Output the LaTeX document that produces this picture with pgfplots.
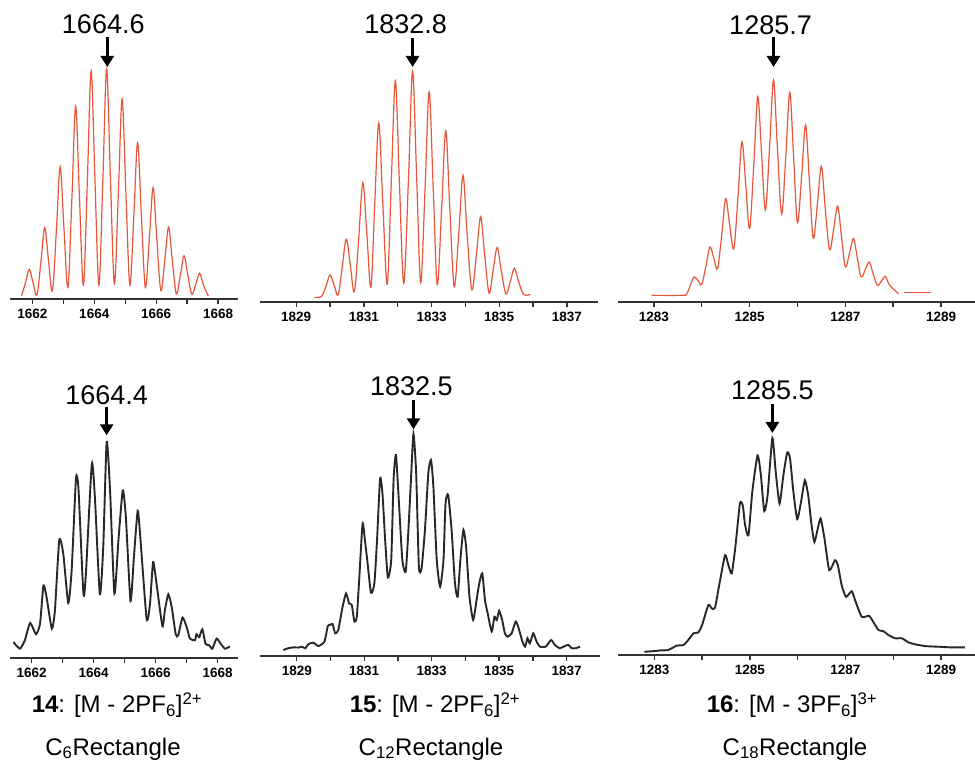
\documentclass[border=0pt]{standalone}
\usepackage{pgfplots}
\pgfplotsset{compat=1.18}
\usepackage{fontspec}
\setmainfont{Liberation Sans}
\usetikzlibrary{arrows.meta}

\definecolor{specred}{RGB}{232,86,60}
\definecolor{specblack}{RGB}{40,40,40}

\pgfplotsset{
  spec/.style={
    scale only axis,
    axis x line=bottom, axis y line=none,
    axis line style={-},
    x axis line style={-, line width=1.8bp, black!80},
    ytick=\empty,
    ymin=0, ymax=1, clip=false,
    tick align=outside,
    major tick length=5bp, minor tick length=5bp,
    every tick/.append style={line width=1.4bp, black!80},
    xticklabel style={font=\fontsize{13.5bp}{15bp}\selectfont\bfseries, yshift=-2bp},
    /pgf/number format/assume math mode=true,
    /pgf/number format/1000 sep={},
  },
  calc/.style={color=specred, line width=1.2bp, smooth, tension=0.55},
  expt/.style={color=specblack, line width=1.9bp, smooth, tension=0.35},
}

% x, label, tip shift, tail shift, label yshift, label xshift
\newcommand{\peaklabel}[6]{%
  \draw[line width=2.6bp, -{Triangle[length=11bp,width=13bp]}]
    ([yshift=#4]axis cs:#1,1) -- ([yshift=#3]axis cs:#1,1);
  \node[font=\fontsize{27bp}{30bp}\selectfont, inner sep=0pt]
    at ([xshift=#6,yshift=#5]axis cs:#1,1) {#2};
}

\begin{document}
\begin{tikzpicture}
\path[use as bounding box] (0,0) rectangle (975bp,762bp);

% ---- top row: calculated ----
\begin{axis}[spec, at={(10bp,463bp)}, width=228bp, height=230bp,
  xmin=1661.28, xmax=1668.64,
  xtick={1662,1664,1666,1668}, minor xtick={1663,1665,1667}]
\addplot[calc] coordinates {
(1661.65,0.013) (1661.78,0.070) (1661.90,0.129) (1662.02,0.073) (1662.15,0.017)
(1662.28,0.164) (1662.40,0.310) (1662.52,0.172) (1662.65,0.035)
(1662.78,0.305) (1662.90,0.575) (1663.02,0.312) (1663.15,0.050)
(1663.28,0.445) (1663.40,0.839) (1663.52,0.450) (1663.65,0.060)
(1663.78,0.527) (1663.90,0.993) (1664.02,0.527) (1664.15,0.060)
(1664.28,0.530) (1664.40,1.000) (1664.52,0.533) (1664.65,0.065)
(1664.78,0.468) (1664.90,0.870) (1665.02,0.465) (1665.15,0.060)
(1665.28,0.370) (1665.40,0.680) (1665.52,0.365) (1665.65,0.050)
(1665.78,0.267) (1665.90,0.484) (1666.02,0.260) (1666.15,0.036)
(1666.28,0.174) (1666.40,0.312) (1666.52,0.167) (1666.65,0.022)
(1666.78,0.105) (1666.90,0.188) (1667.02,0.104) (1667.15,0.020)
(1667.28,0.066) (1667.40,0.112) (1667.52,0.062) (1667.68,0.013)
};
\peaklabel{1664.42}{1664.6}{2bp}{32bp}{45bp}{-4bp}
\end{axis}

\begin{axis}[spec, at={(260bp,460bp)}, width=338bp, height=231bp,
  xmin=1827.93, xmax=1837.92,
  xtick={1829,1831,1833,1835,1837}, minor xtick={1830,1832,1834,1836}]
\addplot[calc] coordinates {
(1829.54,0.019) (1829.75,0.025) (1829.88,0.068) (1830.00,0.117) (1830.12,0.074) (1830.24,0.030)
(1830.36,0.151) (1830.48,0.272) (1830.60,0.159) (1830.72,0.045)
(1830.85,0.280) (1830.97,0.516) (1831.09,0.290) (1831.21,0.064)
(1831.32,0.420) (1831.44,0.775) (1831.56,0.426) (1831.69,0.077)
(1831.81,0.517) (1831.93,0.957) (1832.05,0.519) (1832.18,0.081)
(1832.32,0.540) (1832.44,1.000) (1832.56,0.540) (1832.68,0.083)
(1832.81,0.496) (1832.93,0.909) (1833.05,0.490) (1833.17,0.074)
(1833.30,0.408) (1833.42,0.741) (1833.54,0.404) (1833.67,0.066)
(1833.81,0.308) (1833.93,0.549) (1834.05,0.300) (1834.19,0.052)
(1834.33,0.210) (1834.45,0.369) (1834.57,0.204) (1834.70,0.038)
(1834.82,0.137) (1834.94,0.236) (1835.06,0.136) (1835.20,0.035)
(1835.33,0.090) (1835.45,0.146) (1835.57,0.090) (1835.72,0.033) (1835.92,0.033)
};
\peaklabel{1832.44}{1832.8}{4bp}{33bp}{47bp}{-7bp}
\end{axis}

\begin{axis}[spec, at={(618bp,460bp)}, width=357bp, height=222bp,
  xmin=1282.25, xmax=1289.71,
  xtick={1283,1285,1287,1289}, minor xtick={1284,1286,1288}]
\addplot[calc] coordinates {
(1282.95,0.030) (1283.58,0.030) (1283.68,0.035) (1283.76,0.074) (1283.84,0.113) (1283.92,0.097) (1284.00,0.080)
(1284.09,0.164) (1284.17,0.248) (1284.25,0.199) (1284.33,0.150)
(1284.42,0.308) (1284.50,0.466) (1284.58,0.354) (1284.67,0.241)
(1284.76,0.482) (1284.84,0.722) (1284.92,0.527) (1285.00,0.331)
(1285.09,0.628) (1285.17,0.925) (1285.25,0.670) (1285.33,0.414)
(1285.42,0.707) (1285.50,1.000) (1285.58,0.698) (1285.67,0.396)
(1285.76,0.670) (1285.84,0.944) (1285.92,0.651) (1286.00,0.357)
(1286.09,0.577) (1286.17,0.797) (1286.25,0.542) (1286.33,0.286)
(1286.42,0.449) (1286.50,0.612) (1286.58,0.424) (1286.67,0.236)
(1286.76,0.334) (1286.84,0.432) (1286.92,0.295) (1287.00,0.158)
(1287.09,0.222) (1287.17,0.286) (1287.25,0.200) (1287.33,0.113)
(1287.42,0.147) (1287.50,0.180) (1287.58,0.128) (1287.67,0.075)
(1287.76,0.096) (1287.84,0.116) (1287.92,0.077) (1288.11,0.038)
};
\addplot[calc, smooth=false] coordinates {(1288.22,0.041) (1288.78,0.041)};
\peaklabel{1285.5}{1285.7}{13bp}{43bp}{55bp}{-3bp}
\end{axis}

% ---- bottom row: experimental ----
\begin{axis}[spec, at={(10bp,104bp)}, width=228bp, height=216bp,
  xmin=1661.30, xmax=1668.66,
  xtick={1662,1664,1666,1668}, minor xtick={1663,1665,1667}]
\addplot[expt] coordinates {
(1661.41,0.074) (1661.62,0.043) (1661.78,0.082) (1661.95,0.162) (1662.14,0.110)
(1662.27,0.159) (1662.38,0.336) (1662.48,0.282) (1662.65,0.136) (1662.75,0.221)
(1662.89,0.545) (1663.02,0.483) (1663.18,0.255) (1663.29,0.406) (1663.43,0.830)
(1663.51,0.784) (1663.67,0.298) (1663.75,0.390) (1663.94,0.897) (1664.04,0.745)
(1664.20,0.295) (1664.31,0.514) (1664.42,1.000) (1664.53,0.776) (1664.67,0.298)
(1664.80,0.545) (1664.94,0.776) (1665.04,0.653) (1665.19,0.264) (1665.30,0.468)
(1665.42,0.681) (1665.49,0.591) (1665.71,0.182) (1665.82,0.252) (1665.92,0.444)
(1666.03,0.344) (1666.22,0.147) (1666.30,0.221) (1666.41,0.295) (1666.52,0.236)
(1666.65,0.110) (1666.73,0.105) (1666.87,0.187) (1667.00,0.144) (1667.11,0.090)
(1667.27,0.082) (1667.32,0.110) (1667.41,0.097) (1667.51,0.133) (1667.61,0.066)
(1667.73,0.059) (1667.83,0.043) (1667.97,0.090) (1668.10,0.066) (1668.24,0.043)
(1668.40,0.054)
};
\peaklabel{1664.42}{1664.4}{6.7bp}{35bp}{47bp}{0bp}
\end{axis}

\begin{axis}[spec, at={(260bp,106bp)}, width=340bp, height=222bp,
  xmin=1827.91, xmax=1837.99,
  xtick={1829,1831,1833,1835,1837}, minor xtick={1830,1832,1834,1836}]
\addplot[expt] coordinates {
(1828.60,0.027) (1828.75,0.035) (1828.90,0.039) (1829.05,0.038) (1829.15,0.042)
(1829.25,0.035) (1829.35,0.054) (1829.49,0.060) (1829.64,0.045) (1829.82,0.065)
(1829.92,0.135) (1829.99,0.140) (1830.06,0.144) (1830.14,0.102) (1830.23,0.117)
(1830.35,0.215) (1830.46,0.282) (1830.55,0.237) (1830.63,0.230) (1830.71,0.155)
(1830.78,0.177) (1830.85,0.342) (1830.95,0.595) (1831.02,0.523) (1831.10,0.417)
(1831.20,0.285) (1831.30,0.327) (1831.38,0.523) (1831.47,0.800) (1831.54,0.733)
(1831.62,0.523) (1831.70,0.354) (1831.80,0.432) (1831.87,0.793) (1831.94,0.905)
(1832.03,0.688) (1832.13,0.432) (1832.23,0.380) (1832.31,0.568) (1832.39,0.808)
(1832.46,1.000) (1832.54,0.823) (1832.62,0.402) (1832.70,0.395) (1832.80,0.568)
(1832.90,0.823) (1832.98,0.883) (1833.05,0.763) (1833.15,0.432) (1833.25,0.312)
(1833.35,0.432) (1833.41,0.688) (1833.49,0.725) (1833.59,0.568) (1833.69,0.327)
(1833.77,0.267) (1833.85,0.432) (1833.94,0.568) (1834.02,0.492) (1834.12,0.267)
(1834.23,0.162) (1834.33,0.252) (1834.41,0.327) (1834.50,0.372) (1834.58,0.252)
(1834.66,0.192) (1834.78,0.110) (1834.86,0.177) (1834.93,0.162) (1835.00,0.204)
(1835.09,0.162) (1835.17,0.102) (1835.25,0.087) (1835.37,0.102) (1835.49,0.155)
(1835.57,0.129) (1835.69,0.065) (1835.77,0.042) (1835.84,0.080) (1835.91,0.057)
(1836.01,0.102) (1836.11,0.065) (1836.21,0.042) (1836.38,0.042) (1836.54,0.072)
(1836.65,0.050) (1836.80,0.035) (1836.95,0.045) (1837.05,0.050) (1837.15,0.035)
(1837.27,0.035) (1837.40,0.042)
};
\peaklabel{1832.46}{1832.5}{4.7bp}{34bp}{48bp}{-2bp}
\end{axis}

\begin{axis}[spec, at={(618bp,107bp)}, width=357bp, height=217bp,
  xmin=1282.24, xmax=1289.71,
  xtick={1283,1285,1287,1289}, minor xtick={1284,1286,1288}]
\addplot[expt] coordinates {
(1282.79,0.015) (1283.01,0.018) (1283.12,0.021) (1283.29,0.023) (1283.47,0.043)
(1283.61,0.046) (1283.71,0.069) (1283.82,0.100) (1283.92,0.104) (1284.00,0.138)
(1284.13,0.230) (1284.20,0.215) (1284.27,0.218) (1284.37,0.337) (1284.48,0.460)
(1284.55,0.414) (1284.62,0.376) (1284.70,0.506) (1284.79,0.698) (1284.85,0.690)
(1284.90,0.598) (1284.97,0.552) (1285.05,0.752) (1285.16,0.920) (1285.23,0.828)
(1285.30,0.663) (1285.37,0.736) (1285.47,1.000) (1285.54,0.844) (1285.62,0.698)
(1285.70,0.828) (1285.78,0.933) (1285.84,0.905) (1285.91,0.752) (1285.99,0.626)
(1286.07,0.706) (1286.15,0.805) (1286.22,0.736) (1286.29,0.598) (1286.35,0.521)
(1286.42,0.583) (1286.48,0.629) (1286.56,0.537) (1286.66,0.391) (1286.78,0.437)
(1286.84,0.414) (1286.92,0.322) (1287.01,0.268) (1287.13,0.294) (1287.20,0.253)
(1287.34,0.176) (1287.49,0.181) (1287.58,0.153) (1287.69,0.115) (1287.79,0.110)
(1287.90,0.092) (1288.04,0.077) (1288.18,0.077) (1288.32,0.058) (1288.46,0.049)
(1288.67,0.041) (1288.95,0.038) (1289.22,0.035) (1289.50,0.035)
};
\peaklabel{1285.47}{1285.5}{5bp}{34bp}{48bp}{0bp}
\end{axis}

% ---- compound labels ----
\begin{scope}[every node/.style={anchor=base, inner sep=0pt, font=\fontsize{24bp}{28bp}\selectfont}]
\node at (117bp,49bp) {\textbf{14}: [M - 2PF\textsubscript{6}]\textsuperscript{2+}};
\node at (113bp,7bp) {C\textsubscript{6}Rectangle};
\node at (435bp,49bp) {\textbf{15}: [M - 2PF\textsubscript{6}]\textsuperscript{2+}};
\node at (431bp,7bp) {C\textsubscript{12}Rectangle};
\node at (792bp,49bp) {\textbf{16}: [M - 3PF\textsubscript{6}]\textsuperscript{3+}};
\node at (795bp,7bp) {C\textsubscript{18}Rectangle};
\end{scope}
\end{tikzpicture}
\end{document}
